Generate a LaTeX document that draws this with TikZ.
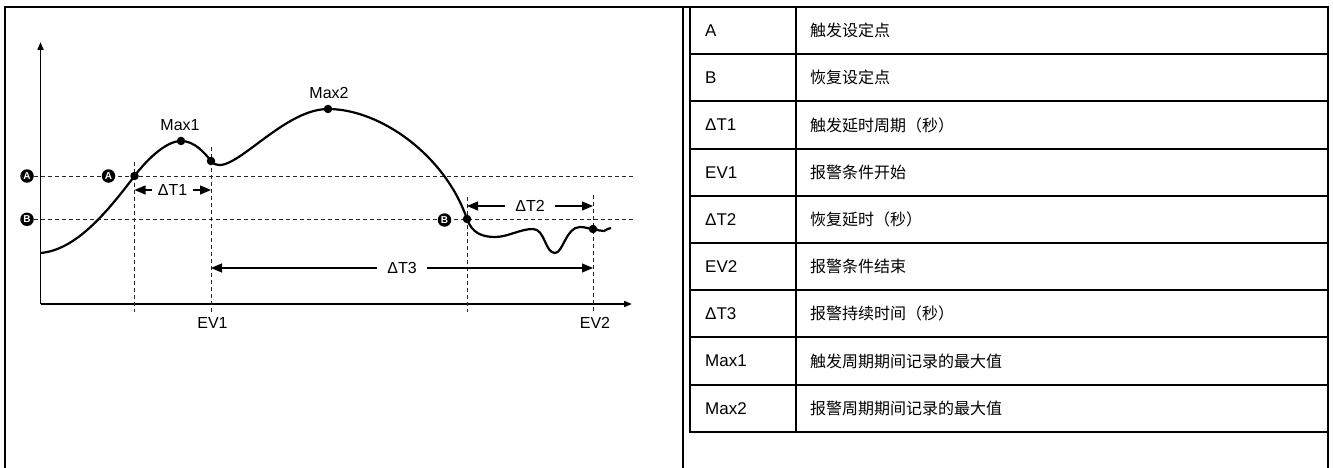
\documentclass[tikz,border=0pt]{standalone}
\usepackage{fontspec}
\setmainfont{Liberation Sans}
\newfontfamily\cjk{Noto Sans CJK SC}
\usetikzlibrary{arrows.meta}

\begin{document}
\begin{tikzpicture}[x=1pt, y=-1pt,
	frame/.style={line width=2pt},
	axis/.style={line width=1.8pt, -{Triangle[length=8pt, width=6pt]}},
	curve/.style={line width=2.2pt},
	guide/.style={line width=1pt, black!85, dash pattern=on 4pt off 3pt},
	dot/.style={circle, fill=black, inner sep=0pt, minimum size=8.5pt},
	badge/.style={circle, fill=black, text=white, inner sep=0pt, minimum size=13.5pt, font=\bfseries\fontsize{10}{10}\selectfont},
	lbl/.style={font=\fontsize{16}{19}\selectfont, inner sep=2pt},
	span/.style={line width=1.2pt, -{Triangle[length=11pt, width=9pt]}},
	cell/.style={anchor=west, inner sep=0pt, font=\fontsize{17}{20}\selectfont}]
	\useasboundingbox (0,0) rectangle (1333,468);

	\draw[frame] (5,468) -- (5,7) -- (1328,7) -- (1328,468);
	\draw[frame] (683,7) -- (683,468);

	\coordinate (o) at (40.5,304);
	\coordinate (ytop) at (40.5,42);
	\coordinate (xend) at (632,304);
	\draw[axis] (o) -- (ytop);
	\draw[axis] (o) -- (xend);

	\node[badge] (la) at (27,176) {A};
	\node[badge] (lb) at (27,219.3) {B};
	\coordinate (ae) at (635,176);
	\coordinate (be) at (635,219.3);
	\draw[guide] (la) -- (ae);
	\draw[guide] (lb) -- (be);

	\coordinate (v1a) at (134.5,162);
	\coordinate (v1b) at (134.5,312);
	\coordinate (v2a) at (211,147);
	\coordinate (v2b) at (211,312);
	\coordinate (v3a) at (467,197);
	\coordinate (v3b) at (467,312);
	\coordinate (v4a) at (593,195);
	\coordinate (v4b) at (593,312);
	\draw[guide] (v1a) -- (v1b);
	\draw[guide] (v2a) -- (v2b);
	\draw[guide] (v3a) -- (v3b);
	\draw[guide] (v4a) -- (v4b);

	\coordinate (c0) at (40.5,253);
	\coordinate (ca) at (134.5,176);
	\coordinate (cm1) at (181,141);
	\coordinate (ce1) at (211,161);
	\coordinate (cm2) at (328,109);
	\coordinate (cb) at (467,219);
	\coordinate (ce2) at (593,229);
	\coordinate (c9) at (611,228);
	\draw[curve] (c0) .. controls (75,250) and (105,215) .. (ca)
		.. controls (145,162) and (165,141) .. (cm1)
		.. controls (194,141) and (204,152) .. (ce1)
		.. controls (228,183) and (280,109) .. (cm2)
		.. controls (380,109) and (445,155) .. (cb)
		.. controls (472,233) and (482,237) .. (495,237)
		.. controls (508,237) and (520,229) .. (533,229)
		.. controls (545,229) and (545,253) .. (555,253)
		.. controls (563,253) and (566,227) .. (580,227)
		.. controls (586,227) and (589,229) .. (ce2)
		.. controls (598,229) and (600,232) .. (604,231)
		.. controls (607,230) and (608,228) .. (c9);

	\node[dot] (pa) at (ca) {};
	\node[dot] (max1) at (cm1) {};
	\node[dot] (ev1) at (ce1) {};
	\node[dot] (max2) at (cm2) {};
	\node[dot] (pb) at (cb) {};
	\node[dot] (ev2) at (ce2) {};
	\node[badge] (ia) at (108.5,176) {A};
	\node[badge] (ib) at (444.5,220) {B};

	\node[lbl] at (180,125) {Max1};
	\node[lbl] at (329,92.5) {Max2};
	\node[lbl] at (212.5,323) {EV1};
	\node[lbl] at (595,323) {EV2};

	\node[lbl, inner xsep=6pt] (t1) at (172.5,190) {ΔT1};
	\coordinate (t1l) at (134.5,190);
	\coordinate (t1r) at (211,190);
	\draw[span] (t1) -- (t1l);
	\draw[span] (t1) -- (t1r);
	\node[lbl, inner xsep=10pt] (t2) at (530,206) {ΔT2};
	\coordinate (t2l) at (467,206);
	\coordinate (t2r) at (593,206);
	\draw[span] (t2) -- (t2l);
	\draw[span] (t2) -- (t2r);
	\node[lbl, inner xsep=10pt] (t3) at (402,268) {ΔT3};
	\coordinate (t3l) at (211,268);
	\coordinate (t3r) at (593,268);
	\draw[span] (t3) -- (t3l);
	\draw[span] (t3) -- (t3r);

	\draw[frame] (690,7) rectangle (1328,431.8);
	\draw[frame] (796,7) -- (796,431.8);
	\foreach \y in {54.2,101.4,148.6,195.8,243,290.2,337.4,384.6}
		\draw[frame] (690,\y) -- (1328,\y);

	\node[cell] (k1) at (705,30.6) {A};
	\node[cell] (k2) at (705,77.8) {B};
	\node[cell] (k3) at (705,125) {ΔT1};
	\node[cell] (k4) at (705,172.2) {EV1};
	\node[cell] (k5) at (705,219.4) {ΔT2};
	\node[cell] (k6) at (705,266.6) {EV2};
	\node[cell] (k7) at (705,313.8) {ΔT3};
	\node[cell] (k8) at (705,361) {Max1};
	\node[cell] (k9) at (705,408.2) {Max2};
	\node[cell, font=\fontsize{16}{19}\selectfont] (d1) at (810,30.6) {\cjk 触发设定点};
	\node[cell, font=\fontsize{16}{19}\selectfont] (d2) at (810,77.8) {\cjk 恢复设定点};
	\node[cell, font=\fontsize{16}{19}\selectfont] (d3) at (810,125) {\cjk 触发延时周期（秒）};
	\node[cell, font=\fontsize{16}{19}\selectfont] (d4) at (810,172.2) {\cjk 报警条件开始};
	\node[cell, font=\fontsize{16}{19}\selectfont] (d5) at (810,219.4) {\cjk 恢复延时（秒）};
	\node[cell, font=\fontsize{16}{19}\selectfont] (d6) at (810,266.6) {\cjk 报警条件结束};
	\node[cell, font=\fontsize{16}{19}\selectfont] (d7) at (810,313.8) {\cjk 报警持续时间（秒）};
	\node[cell, font=\fontsize{16}{19}\selectfont] (d8) at (810,361) {\cjk 触发周期期间记录的最大值};
	\node[cell, font=\fontsize{16}{19}\selectfont] (d9) at (810,408.2) {\cjk 报警周期期间记录的最大值};
\end{tikzpicture}
\end{document}
